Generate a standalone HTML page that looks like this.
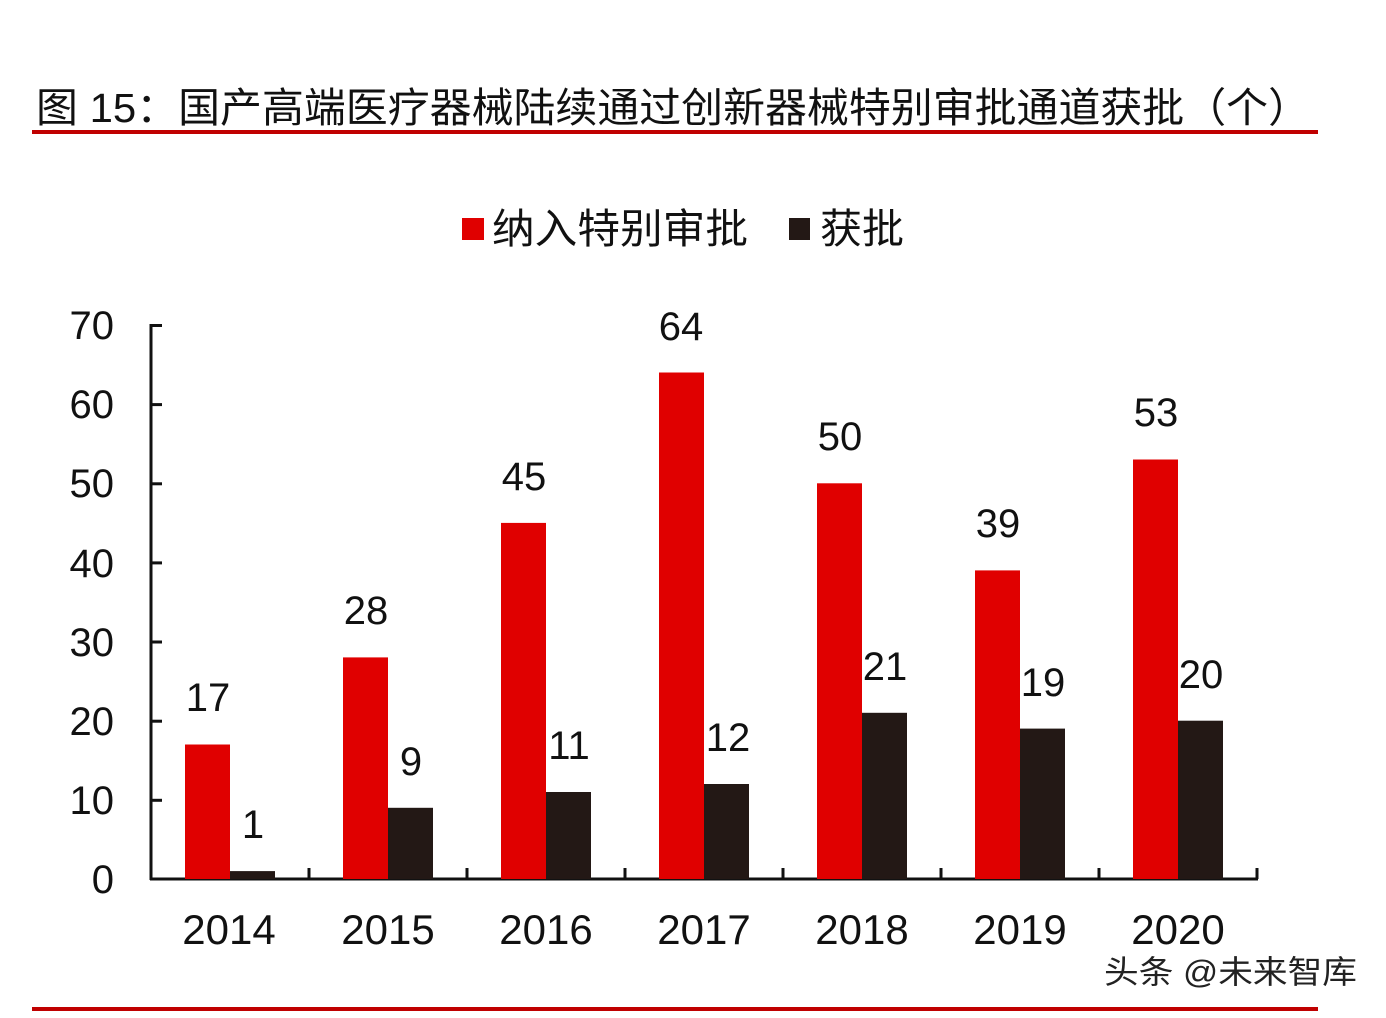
<!DOCTYPE html>
<html><head><meta charset="utf-8"><style>
html,body{margin:0;padding:0;background:#fff;}
svg{display:block;}
text{font-family:"Liberation Sans","Noto Sans CJK SC",sans-serif;fill:#111;}
</style></head><body>
<svg width="1386" height="1018" viewBox="0 0 1386 1018" xmlns="http://www.w3.org/2000/svg">
<rect width="1386" height="1018" fill="#fff"/>
<text x="36" y="122" font-size="41" textLength="1274" lengthAdjust="spacingAndGlyphs">图 15：国产高端医疗器械陆续通过创新器械特别审批通道获批（个）</text>
<rect x="32" y="130" width="1286" height="4" fill="#c00000"/>
<rect x="462" y="218" width="22" height="22" fill="#e00000"/>
<text x="492" y="243" font-size="41" textLength="256" lengthAdjust="spacingAndGlyphs">纳入特别审批</text>
<rect x="789" y="218" width="21" height="22" fill="#231815"/>
<text x="820" y="243" font-size="41" textLength="84" lengthAdjust="spacingAndGlyphs">获批</text>
<g font-size="40" text-anchor="end">
<text x="114" y="893">0</text><text x="114" y="814">10</text><text x="114" y="735">20</text><text x="114" y="656">30</text><text x="114" y="577">40</text><text x="114" y="497">50</text><text x="114" y="418">60</text><text x="114" y="339">70</text>
</g>
<g stroke="#111" stroke-width="3">
<line x1="151" y1="324" x2="151" y2="880"/>
<line x1="150" y1="879" x2="1258" y2="879"/>
<line x1="151" y1="325.5" x2="162" y2="325.5"/><line x1="151" y1="404.6" x2="162" y2="404.6"/><line x1="151" y1="483.8" x2="162" y2="483.8"/><line x1="151" y1="562.9" x2="162" y2="562.9"/><line x1="151" y1="642" x2="162" y2="642"/><line x1="151" y1="721.2" x2="162" y2="721.2"/><line x1="151" y1="800.3" x2="162" y2="800.3"/>
<line x1="309" y1="868" x2="309" y2="879"/><line x1="467" y1="868" x2="467" y2="879"/><line x1="625" y1="868" x2="625" y2="879"/><line x1="783" y1="868" x2="783" y2="879"/><line x1="941" y1="868" x2="941" y2="879"/><line x1="1099" y1="868" x2="1099" y2="879"/><line x1="1257" y1="868" x2="1257" y2="879"/>
</g>
<g fill="#e00000">
<rect x="185" y="744.5" width="45" height="134.5"/>
<rect x="343" y="657.4" width="45" height="221.6"/>
<rect x="501" y="522.9" width="45" height="356.1"/>
<rect x="659" y="372.5" width="45" height="506.5"/>
<rect x="817" y="483.3" width="45" height="395.7"/>
<rect x="975" y="570.4" width="45" height="308.6"/>
<rect x="1133" y="459.5" width="45" height="419.5"/>
</g>
<g fill="#231815">
<rect x="230" y="871.1" width="45" height="7.9"/>
<rect x="388" y="807.8" width="45" height="71.2"/>
<rect x="546" y="792" width="45" height="87"/>
<rect x="704" y="784" width="45" height="95"/>
<rect x="862" y="712.8" width="45" height="166.2"/>
<rect x="1020" y="728.6" width="45" height="150.4"/>
<rect x="1178" y="720.7" width="45" height="158.3"/>
</g>
<g font-size="40" text-anchor="middle">
<text x="208" y="711">17</text><text x="366" y="624">28</text><text x="524" y="490">45</text><text x="681" y="340">64</text><text x="840" y="450">50</text><text x="998" y="537">39</text><text x="1156" y="426">53</text>
<text x="253" y="838">1</text><text x="411" y="775">9</text><text x="569" y="759">11</text><text x="728" y="751">12</text><text x="885" y="680">21</text><text x="1043" y="696">19</text><text x="1201" y="688">20</text>
</g>
<g font-size="42" text-anchor="middle">
<text x="229" y="944">2014</text><text x="388" y="944">2015</text><text x="546" y="944">2016</text><text x="704" y="944">2017</text><text x="862" y="944">2018</text><text x="1020" y="944">2019</text><text x="1178" y="944">2020</text>
</g>
<text x="1104" y="983" font-size="32" textLength="253" lengthAdjust="spacingAndGlyphs" style="fill:#222">头条 @未来智库</text>
<rect x="32" y="1007" width="1286" height="4" fill="#c00000"/>
</svg>
</body></html>
